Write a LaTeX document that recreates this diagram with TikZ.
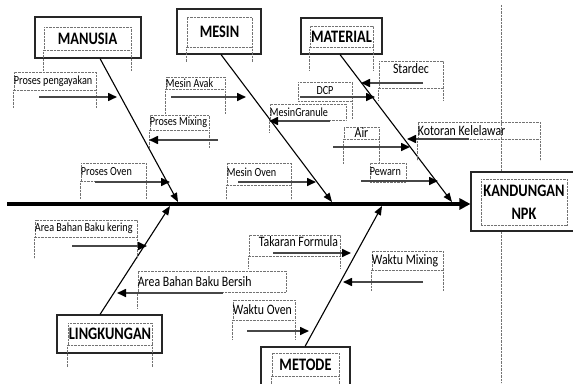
\documentclass[tikz,border=0pt]{standalone}
\usepackage{fontspec}
\setmainfont{Carlito}[FakeStretch=0.82]
\usetikzlibrary{arrows.meta,fit}
\begin{document}
\begin{tikzpicture}[x=1pt,y=-1pt,
  dotbox/.style={draw=black!55, dash pattern=on 0.7pt off 0.7pt, line width=0.6pt, inner sep=0pt},
  dotext/.style={draw=black!55, dash pattern=on 0.7pt off 0.7pt, line width=0.6pt},
  headbox/.style={draw=black!85, line width=1.1pt, fill=white, inner sep=0pt},
  sm/.style={font=\fontsize{12.4}{14}\selectfont, inner sep=0pt},
  lg/.style={font=\fontsize{14.4}{16}\selectfont, inner sep=0pt},
  hd/.style={font=\fontsize{17.5}{23}\selectfont\bfseries},
  bone/.style={draw=black, line width=1.1pt, -{Triangle[length=9pt,width=7pt]}},
  subarr/.style={draw=black!72, line width=1.6pt, -{Triangle[length=9pt,width=8pt,color=black]}},
  spine/.style={draw=black, line width=3.6pt, -{Triangle[length=11pt,width=11pt]}}
]
\useasboundingbox (0,0) rectangle (573,383);

% vertical dotted guide line
\coordinate (vt) at (501,5);
\coordinate (vb) at (501,383);
\draw[dotext] (vt) -- (vb);

% effect box
\node[headbox, fit={(471,172) (577,231)}] (effect) {};
\node[dotbox, fit={(481,179) (567,225)}] (effecti) {};
\node[hd, align=center, inner sep=0pt] (effectt) at (effecti.center) {KANDUNGAN\\NPK};

% spine
\coordinate (sp0) at (7,204);
\draw[spine] (sp0) -- (sp0 -| effect.west);

% category boxes
\node[headbox, fit={(35,17) (141,58)}] (manusia) {};
\node[dotbox, fit={(44,27) (131,50)}] (manusiai) {};
\node[hd, inner sep=0pt] (manusiat) at (manusiai.center) {MANUSIA};
\draw[dotext] (manusiai.south west) -- ++(0,20);
\draw[dotext] (manusiai.south east) -- ++(0,20);

\node[headbox, fit={(177,9) (261,54)}] (mesin) {};
\node[dotbox, fit={(187,17) (252,47)}] (mesini) {};
\node[hd, inner sep=0pt] (mesint) at (mesini.center) {MESIN};
\draw[dotext] (mesini.south west) -- ++(0,15);
\draw[dotext] (mesini.south east) -- ++(0,15);

\node[headbox, fit={(301,18) (382,54)}] (material) {};
\node[dotbox, fit={(310,26) (373,47)}] (materiali) {};
\node[hd, inner sep=0pt] (materialt) at (materiali.center) {MATERIAL};
\draw[dotext] (materiali.south west) -- ++(0,23);
\draw[dotext] (materiali.south east) -- ++(0,23);

\node[headbox, fit={(57,315) (162,353)}] (lingkungan) {};
\node[dotbox, fit={(68,323) (152,345)}] (lingkungani) {};
\node[hd, inner sep=0pt] (lingkungant) at (lingkungani.center) {LINGKUNGAN};
\draw[dotext] (lingkungani.south west) -- ++(0,22);
\draw[dotext] (lingkungani.south east) -- ++(0,22);

\node[headbox, fit={(261,347) (350,395)}] (metode) {};
\node[dotbox, fit={(272,353) (339,376)}] (metodei) {};
\node[hd, inner sep=0pt] (metodet) at (metodei.center) {METODE};
\draw[dotext] (metodei.south west) -- ++(0,10);
\draw[dotext] (metodei.south east) -- ++(0,10);

% main bones
\coordinate (mnE) at (178,202);
\coordinate (msE) at (332,202);
\coordinate (mtE) at (452,202);
\coordinate (lgE) at (170,206);
\coordinate (mdE) at (382,206);
\draw[bone] ([xshift=12pt]manusia.south) -- (mnE);
\draw[bone] ([xshift=2pt]mesin.south) -- (msE);
\draw[bone] ([xshift=-1.5pt]material.south) -- (mtE);
\draw[bone] ([xshift=-9.5pt]lingkungan.north) -- (lgE);
\draw[bone] ([xshift=-0.5pt]metode.north) -- (mdE);

% ---- sub-cause label boxes ----
% Proses pengayakan
\node[dotbox, fit={(14,72) (96,90)}] (pg) {};
\node[sm, anchor=west] (pgt) at (pg.west) {Proses pengayakan};
\draw[dotext] (pg.south west) -- ++(0,17);
\draw[dotext] (pg.south east) -- ++(0,17);
% Mesin Avak
\node[dotbox, fit={(166,77) (225,89)}] (av) {};
\node[sm, anchor=west] (avt) at (av.west) {Mesin Avak};
\draw[dotext] (av.south west) -- ++(0,24);
\draw[dotext] (av.south east) -- ++(0,24);
% Proses Mixing
\node[dotbox, fit={(150,115) (209,130)}] (mx) {};
\node[sm, anchor=west] (mxt) at (mx.west) {Proses Mixing};
\draw[dotext] (mx.south west) -- ++(0,18);
\draw[dotext] (mx.south east) -- ++(0,18);
% Proses Oven
\node[dotbox, fit={(81,163) (146,181)}] (po) {};
\node[sm, anchor=west] (pot) at (po.west) {Proses Oven};
\draw[dotext] (po.south west) -- ++(0,17);
\draw[dotext] (po.south east) -- ++(0,17);
% Area Bahan Baku kering
\node[dotbox, fit={(35,220) (137,237)}] (kr) {};
\node[sm, anchor=west] (krt) at (kr.west) {Area Bahan Baku kering};
\draw[dotext] (kr.south west) -- ++(0,21);
\draw[dotext] (kr.south east) -- ++(0,21);
% Area Bahan Baku Bersih
\node[dotbox, fit={(138,271) (286,292)}] (br) {};
\node[lg, anchor=west] (brt) at (br.west) {Area Bahan Baku Bersih};
\draw[dotext] (br.south west) -- ++(0,16);
% Waktu Oven
\node[dotbox, fit={(233,300) (295,320)}] (wo) {};
\node[lg, anchor=west] (wot) at (wo.west) {Waktu Oven};
\draw[dotext] (wo.south west) -- ++(0,19);
\draw[dotext] (wo.south east) -- ++(0,19);
% Takaran Formula
\node[dotbox, fit={(249,235) (340,256)}] (tf) {};
\node[lg, anchor=north east] (tft) at ([xshift=-2pt,yshift=-2pt]tf.north east) {Takaran Formula};
\draw[dotext] (tf.south west) -- ++(0,12);
\draw[dotext] (tf.south east) -- ++(0,12);
% Waktu Mixing
\node[dotbox, fit={(372,251) (443,270)}] (wm) {};
\node[lg, anchor=west] (wmt) at (wm.west) {Waktu Mixing};
\draw[dotext] (wm.south west) -- ++(0,20);
\draw[dotext] (wm.south east) -- ++(0,20);
% Mesin Oven
\node[dotbox, fit={(227,163) (291,185)}] (mo) {};
\node[sm, anchor=west] (mot) at ([yshift=2pt]mo.west) {Mesin Oven};
\draw[dotext] (mo.south west) -- ++(0,14);
\draw[dotext] (mo.south east) -- ++(0,14);
% Pewarn
\node[dotbox, fit={(370,163) (406,182)}] (pw) {};
\node[sm, anchor=west] (pwt) at ([yshift=1pt]pw.west) {Pewarn};
% Air
\node[dotbox, fit={(344,127) (379,139)}] (ai) {};
\node[lg, anchor=center] (ait) at (ai.center) {Air};
\draw[dotext] (ai.south west) -- ++(0,24);
\draw[dotext] (ai.south east) -- ++(0,24);
% Kotoran Kelelawar
\node[dotbox, fit={(418,122) (540,139)}] (kk) {};
\node[lg, anchor=west] (kkt) at (kk.west) {Kotoran Kelelawar};
\draw[dotext] (kk.south west) -- ++(0,21);
\draw[dotext] (kk.south east) -- ++(0,21);
% Stardec
\node[dotbox, fit={(379,61) (443,88)}] (sd) {};
\node[lg, anchor=north] (sdt) at ([yshift=-3pt]sd.north) {Stardec};
\draw[dotext] (sd.south west) -- ++(0,12);
\draw[dotext] (sd.south east) -- ++(0,12);
% DCP
\node[dotbox, fit={(298,82) (352,101)}] (dc) {};
\node[sm, anchor=center] (dct) at ([yshift=1pt]dc.center) {DCP};
\draw[dotext] (dc.south east) -- ++(0,17);
% MesinGranule
\node[dotbox, fit={(270,104) (346,120)}] (mg) {};
\node[sm, anchor=west] (mgt) at (mg.west) {MesinGranule};
\draw[dotext] (mg.south west) -- ++(0,12);

% ---- sub-cause arrows ----
\coordinate (a1) at (39,97);   \coordinate (b1) at (117,97);
\coordinate (a2) at (171,97);  \coordinate (b2) at (246,97);
\coordinate (a3) at (218,140); \coordinate (b3) at (149,140);
\coordinate (a4) at (95,182);  \coordinate (b4) at (170,182);
\coordinate (a5) at (72,246);  \coordinate (b5) at (147,246);
\coordinate (a6) at (223,293); \coordinate (b6) at (117,293);
\coordinate (a7) at (247,331); \coordinate (b7) at (309,331);
\coordinate (a8) at (273,253); \coordinate (b8) at (351,253);
\coordinate (a9) at (423,282); \coordinate (b9) at (343,282);
\coordinate (a10) at (238,182); \coordinate (b10) at (316,182);
\coordinate (a11) at (361,181); \coordinate (b11) at (438,181);
\coordinate (a12) at (333,147); \coordinate (b12) at (410,147);
\coordinate (a13) at (469,139); \coordinate (b13) at (407,139);
\coordinate (a14) at (423,83);  \coordinate (b14) at (361,83);
\coordinate (a15) at (300,97);  \coordinate (b15) at (375,97);
\coordinate (a16) at (330,121); \coordinate (b16) at (269,121);
\foreach \i in {1,...,16} {\draw[subarr] (a\i) -- (b\i);}
\end{tikzpicture}
\end{document}
